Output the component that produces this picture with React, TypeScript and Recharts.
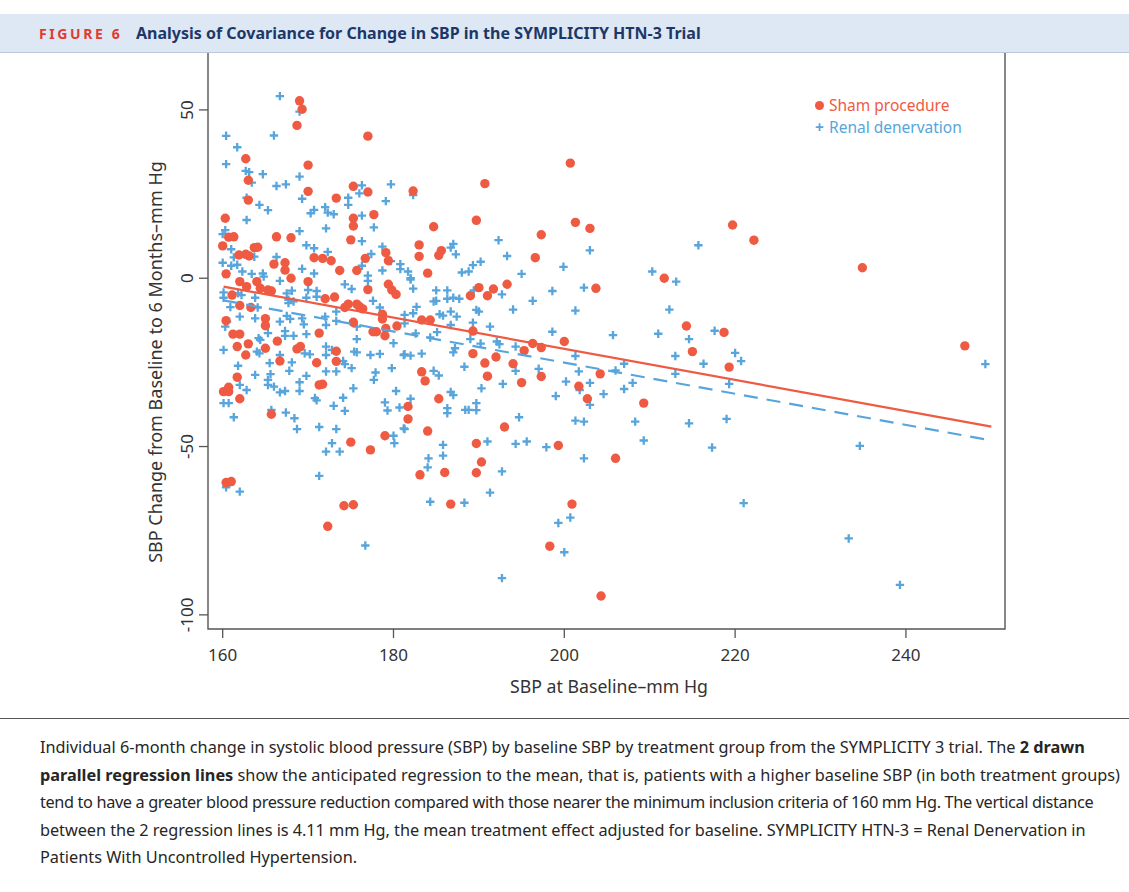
import { ScatterChart, Scatter, XAxis, YAxis, ReferenceArea } from "recharts";

const RED = "#ef5a42";
const BLUE = "#57a5dc";
const INK = "#333333";

const xTicks = [160, 180, 200, 220, 240];
const yTicks = [50, 0, -50, -100];
const xDomain: [number, number] = [158.28, 251.6];
const yDomain: [number, number] = [-104.2, 67.2];

// [baseline SBP, change at 6 months]
const shamPoints: [number, number][] = [
  [169.0, 52.7], [169.3, 50.2], [168.7, 45.4], [177.0, 42.2], [162.7, 35.5], [170.0, 33.6], [163.0, 29.1],
  [175.3, 27.3], [177.0, 25.6], [170.0, 25.8], [173.3, 23.8], [163.0, 23.2], [160.3, 17.8], [177.7, 18.9],
  [175.3, 17.8], [175.3, 15.5], [160.7, 12.2], [161.3, 12.3], [166.3, 12.3], [168.0, 12.0], [175.0, 11.4],
  [160.0, 9.6], [163.7, 9.1], [164.1, 9.2], [161.9, 6.9], [162.7, 7.1], [163.1, 6.6], [170.7, 6.1],
  [171.7, 5.9], [172.7, 5.2], [176.7, 5.9], [179.1, 7.6], [179.4, 5.2], [166.0, 4.2], [167.3, 4.6],
  [167.3, 2.4], [160.4, 1.3], [173.7, 2.3], [175.7, 2.3], [162.0, -1.0], [162.8, -2.5], [164.0, -1.0],
  [164.4, -3.0], [165.3, -3.5], [165.7, -3.8], [168.0, 0.0], [170.0, -1.0], [161.1, -5.0], [162.0, -8.1],
  [163.3, -8.7], [160.4, -12.6], [165.0, -12.0], [165.0, -14.1], [172.0, -6.1], [173.1, -5.6], [174.3, -8.7],
  [174.7, -7.7], [175.7, -7.7], [176.0, -8.4], [176.4, -9.1], [177.0, -3.4], [178.7, -10.7], [178.7, -12.1],
  [179.4, -1.8], [179.8, -3.5], [180.3, -4.8], [180.4, -14.2], [179.1, -14.9], [177.6, -15.9], [178.0, -15.9],
  [179.0, -17.1], [175.3, -13.1], [161.2, -16.6], [162.0, -16.6], [161.7, -20.3], [163.0, -19.5], [162.7, -22.8],
  [165.0, -20.8], [166.4, -18.7], [171.3, -16.3], [168.7, -21.0], [169.1, -20.3], [166.7, -24.6], [171.0, -25.1],
  [173.3, -21.7], [173.3, -24.7], [161.7, -29.4], [160.7, -32.4], [160.1, -33.7], [160.7, -33.7], [162.0, -35.8],
  [171.3, -31.7], [171.7, -31.5], [165.7, -40.4], [175.0, -48.7], [179.0, -46.8], [177.3, -51.0], [160.4, -60.7],
  [161.0, -60.4], [172.3, -73.7], [174.2, -67.6], [175.3, -67.3], [200.7, 34.2], [190.7, 28.1], [182.3, 25.9],
  [189.7, 17.2], [184.7, 15.3], [201.3, 16.6], [203.0, 14.8], [197.3, 12.9], [183.0, 9.9], [183.0, 6.5],
  [185.6, 8.2], [185.3, 6.8], [196.6, 6.1], [184.0, 1.5], [190.0, -2.8], [191.7, -3.2], [193.3, -1.8],
  [189.0, -5.2], [191.0, -5.2], [203.7, -3.0], [183.3, -12.4], [184.3, -12.4], [189.3, -15.7], [196.3, -19.4],
  [197.3, -20.6], [200.0, -18.8], [195.3, -21.5], [189.3, -22.4], [192.0, -23.4], [190.7, -25.2], [194.0, -25.4],
  [183.3, -27.8], [183.7, -30.5], [191.0, -29.1], [197.3, -29.2], [195.0, -31.0], [204.2, -28.4], [201.7, -32.1],
  [202.7, -35.8], [185.3, -35.8], [181.7, -38.1], [181.7, -41.8], [184.0, -45.4], [193.0, -44.2], [189.7, -49.1],
  [199.3, -49.7], [190.3, -54.6], [183.1, -58.4], [186.0, -57.7], [189.7, -57.8], [186.7, -67.1], [200.9, -67.1],
  [198.3, -79.6], [204.3, -94.4], [219.7, 15.8], [222.2, 11.3], [211.7, 0.0], [214.3, -14.2], [218.7, -16.1],
  [215.0, -21.8], [219.3, -26.4], [209.3, -37.1], [206.0, -53.5], [234.9, 3.1], [246.9, -20.1],
];

const renalPoints: [number, number][] = [
  [166.7, 54.1], [169.0, 49.5], [160.4, 42.3], [166.0, 42.4], [161.7, 38.9], [160.4, 33.9], [162.7, 31.9],
  [163.1, 31.5], [164.7, 30.9], [169.0, 30.2], [163.4, 28.4], [166.3, 27.4], [167.4, 27.9], [176.3, 27.6],
  [179.7, 27.9], [176.0, 25.2], [169.3, 23.6], [162.8, 23.9], [174.7, 23.9], [174.7, 21.8], [179.1, 22.9],
  [164.3, 21.8], [165.3, 20.2], [170.3, 19.3], [170.7, 20.3], [172.0, 21.1], [172.3, 19.5], [173.0, 19.0],
  [176.3, 18.6], [162.8, 17.3], [172.1, 14.8], [177.7, 15.1], [160.3, 14.3], [160.0, 13.1], [169.0, 14.0],
  [176.3, 11.0], [169.8, 9.8], [170.7, 8.9], [172.3, 7.8], [178.7, 9.4], [161.0, 8.6], [161.3, 6.2],
  [163.7, 6.4], [166.3, 6.3], [177.4, 7.2], [160.0, 4.6], [161.0, 3.7], [161.7, 4.0], [162.3, 2.0],
  [163.4, 1.3], [164.7, 1.4], [169.3, 2.8], [170.7, 1.4], [176.3, 3.7], [177.0, 0.8], [178.7, 2.3],
  [180.8, 4.2], [180.8, 2.7], [179.7, 5.1], [166.7, -0.8], [174.3, -1.8], [177.0, -0.8], [164.8, 0.5],
  [160.1, -4.2], [160.1, -5.8], [161.8, -4.5], [162.2, -5.0], [163.8, -5.8], [167.5, -4.5], [168.1, -3.7],
  [167.7, -6.4], [170.0, -3.5], [171.0, -3.8], [169.8, -5.8], [171.0, -5.5], [175.1, -3.2], [160.9, -8.6],
  [164.1, -8.7], [167.7, -7.4], [168.3, -6.9], [173.3, -9.9], [177.6, -6.7], [178.4, -8.7], [162.0, -11.4],
  [160.5, -12.9], [160.3, -14.4], [163.8, -11.9], [166.7, -12.9], [167.5, -11.2], [167.9, -12.1], [169.3, -11.9],
  [169.5, -13.7], [172.0, -11.4], [172.1, -13.9], [173.3, -12.7], [175.7, -14.4], [165.3, -16.3], [167.3, -15.7],
  [167.3, -17.1], [168.3, -17.1], [169.8, -16.6], [164.2, -17.8], [164.4, -18.3], [175.7, -18.1], [180.0, -19.3],
  [160.1, -21.3], [164.0, -21.8], [164.3, -22.3], [166.7, -22.8], [169.6, -22.3], [170.2, -22.6], [172.1, -20.3],
  [172.1, -22.8], [172.8, -21.3], [175.4, -21.8], [175.7, -22.0], [177.3, -22.8], [178.4, -22.5], [181.2, -22.8],
  [174.1, -24.6], [174.3, -25.5], [161.8, -26.0], [165.5, -25.2], [165.6, -28.5], [168.1, -25.0], [167.8, -27.5],
  [163.8, -28.7], [169.8, -29.0], [172.1, -27.7], [173.3, -27.7], [175.1, -26.7], [177.9, -28.0], [177.7, -30.2],
  [179.8, -26.7], [165.3, -30.2], [165.3, -31.7], [166.0, -32.2], [169.0, -30.9], [169.0, -33.5], [162.0, -31.7],
  [162.8, -33.2], [166.7, -33.9], [167.3, -33.5], [170.8, -35.6], [171.0, -36.3], [174.1, -35.5], [175.3, -32.7],
  [180.3, -33.5], [160.1, -37.1], [160.7, -37.1], [173.0, -37.9], [174.3, -39.4], [179.0, -36.9], [179.3, -39.3],
  [180.7, -38.4], [165.7, -39.1], [167.4, -39.9], [168.4, -41.6], [161.3, -41.3], [168.7, -44.8], [171.3, -44.2],
  [173.3, -44.8], [181.2, -44.6], [180.0, -46.8], [180.1, -49.0], [172.8, -49.0], [173.7, -51.5], [172.1, -51.5],
  [160.4, -62.1], [162.0, -63.4], [171.3, -58.7], [176.7, -79.4], [182.3, 24.7], [187.0, 10.2], [186.7, 9.1],
  [187.3, 7.1], [192.3, 11.3], [193.3, 6.6], [190.2, 4.9], [189.3, 3.9], [188.0, 1.7], [188.8, 2.0],
  [195.0, 1.3], [199.9, 3.4], [203.0, 8.3], [181.7, 2.0], [182.0, 0.0], [182.0, -0.4], [182.3, -3.1],
  [185.0, -3.6], [186.3, -3.6], [186.3, -6.1], [187.0, -5.8], [187.7, -6.1], [184.7, -6.9], [185.0, -6.7],
  [189.4, -3.6], [192.7, -4.8], [198.6, -3.8], [202.3, -2.8], [196.3, -6.7], [194.0, -9.3], [201.3, -9.6],
  [182.7, -8.5], [182.3, -10.4], [181.3, -10.9], [185.4, -10.7], [185.8, -11.1], [186.7, -9.9], [187.4, -11.4],
  [189.7, -9.4], [190.0, -9.9], [181.3, -13.4], [186.7, -13.9], [189.3, -13.2], [191.3, -14.4], [198.6, -15.9],
  [182.6, -16.4], [185.1, -16.0], [184.3, -17.6], [189.0, -18.1], [192.1, -18.8], [192.4, -19.6], [190.2, -19.4],
  [194.3, -20.3], [187.2, -20.8], [187.0, -22.0], [181.3, -22.6], [182.0, -23.0], [183.3, -22.4], [201.3, -23.1],
  [188.3, -26.3], [197.0, -26.9], [194.3, -27.5], [201.7, -27.7], [184.7, -27.5], [185.3, -28.9], [200.2, -30.7],
  [203.0, -31.1], [192.8, -31.4], [190.3, -32.7], [201.8, -33.2], [186.7, -33.8], [187.0, -34.7], [199.0, -35.0],
  [204.6, -34.4], [182.0, -35.8], [189.7, -37.1], [189.7, -39.2], [188.4, -39.1], [188.8, -39.1], [186.3, -38.6],
  [186.3, -40.1], [203.0, -37.6], [181.3, -44.8], [194.7, -41.3], [201.3, -42.3], [202.3, -42.6], [185.8, -49.5],
  [191.0, -48.5], [194.3, -49.2], [195.6, -48.5], [197.9, -50.2], [185.8, -52.7], [184.1, -53.5], [202.3, -53.5],
  [184.0, -56.2], [192.7, -57.4], [191.3, -63.7], [184.3, -66.4], [188.3, -66.7], [199.3, -72.7], [200.7, -71.1],
  [200.0, -81.4], [192.7, -89.1], [215.7, 9.8], [210.3, 2.0], [213.1, -1.0], [212.3, -9.3], [205.7, -16.9],
  [211.0, -16.5], [217.6, -15.6], [214.6, -18.1], [213.0, -23.1], [220.0, -22.2], [220.7, -24.6], [216.3, -25.4],
  [207.0, -25.4], [206.0, -27.4], [213.0, -28.4], [208.0, -31.1], [207.0, -32.9], [219.3, -31.4], [208.3, -42.6],
  [214.6, -43.1], [219.0, -41.8], [209.3, -48.2], [217.3, -50.3], [221.0, -66.8], [249.3, -25.5], [234.6, -49.8],
  [233.3, -77.3], [239.3, -91.1],
];

// parallel regression lines (endpoints)
const shamFit: [number, number][] = [[160.1, -2.5], [250.0, -44.1]];
const renalFit: [number, number][] = [[160.1, -6.6], [250.0, -48.2]];

const toRows = (pts: [number, number][]) => pts.map(([x, y]) => ({ x, y }));

const Dot = (props: any) => <circle cx={props.cx} cy={props.cy} r={4.7} fill={RED} />;
const Plus = (props: any) => {
  const { cx, cy } = props;
  return (
    <path
      d={`M${cx - 4.2},${cy}H${cx + 4.2}M${cx},${cy - 4.2}V${cy + 4.2}`}
      stroke={BLUE}
      strokeWidth={2.3}
    />
  );
};
const NoMark = () => <g />;

const YTick = ({ x, y, payload }: any) => (
  <text
    x={x - 4}
    y={y}
    transform={`rotate(-90 ${x - 4} ${y})`}
    textAnchor="middle"
    fontSize={17}
    fill={INK}
  >
    {payload.value}
  </text>
);

const font = "'Noto Sans', 'Open Sans', sans-serif";

export default function App() {
  return (
    <div
      style={{
        position: "absolute",
        left: 0,
        top: 0,
        width: 1129,
        height: 892,
        background: "#fff",
        fontFamily: font,
        overflow: "hidden",
      }}
    >
      <ScatterChart
        width={1129}
        height={892}
        margin={{ top: 52, right: 124, bottom: 223, left: 168 }}
        style={{ position: "absolute", left: 0, top: 0, fontFamily: font }}
      >
        <XAxis
          type="number"
          dataKey="x"
          domain={xDomain}
          ticks={xTicks}
          allowDataOverflow
          height={40}
          axisLine={false}
          tickSize={9}
          tickLine={{ stroke: "#555", strokeWidth: 1.3 }}
          tick={{ fontSize: 17, fill: INK }}
          tickMargin={11}
        />
        <YAxis
          type="number"
          dataKey="y"
          domain={yDomain}
          ticks={yTicks}
          allowDataOverflow
          width={40}
          axisLine={false}
          tickSize={9}
          tickLine={{ stroke: "#555", strokeWidth: 1.3 }}
          tick={<YTick />}
        />
        <ReferenceArea
          x1={xDomain[0]}
          x2={xDomain[1]}
          y1={yDomain[0]}
          y2={yDomain[1]}
          fill="none"
          stroke="#555"
          strokeWidth={1.4}
          ifOverflow="visible"
        />
        <Scatter data={toRows(renalPoints)} shape={<Plus />} isAnimationActive={false} />
        <Scatter data={toRows(shamPoints)} shape={<Dot />} isAnimationActive={false} />
        <Scatter
          data={toRows(shamFit)}
          line={{ stroke: RED, strokeWidth: 2.2 }}
          shape={<NoMark />}
          isAnimationActive={false}
        />
        <Scatter
          data={toRows(renalFit)}
          line={{ stroke: BLUE, strokeWidth: 2.2, strokeDasharray: "14 9" }}
          shape={<NoMark />}
          isAnimationActive={false}
        />
      </ScatterChart>

      {/* header band */}
      <div
        style={{
          position: "absolute",
          left: 0,
          top: 14,
          width: 1129,
          height: 38,
          background: "#dde8f4",
          borderBottom: "1px solid #b9c9db",
        }}
      >
        <span
          style={{
            position: "absolute",
            left: 39,
            top: 10,
            fontSize: 14,
            fontWeight: 700,
            color: "#e23a2e",
            letterSpacing: 2.6,
          }}
        >
          FIGURE 6
        </span>
        <span
          style={{
            position: "absolute",
            left: 136,
            top: 8,
            fontSize: 16,
            fontWeight: 700,
            color: "#1d3868",
          }}
        >
          Analysis of Covariance for Change in SBP in the SYMPLICITY HTN-3 Trial
        </span>
      </div>

      {/* legend */}
      <div style={{ position: "absolute", left: 815, top: 94, fontSize: 15.5, lineHeight: "22px" }}>
        <div style={{ color: RED }}>
          <span
            style={{
              display: "inline-block",
              width: 9,
              height: 9,
              borderRadius: "50%",
              background: RED,
              marginRight: 5,
              verticalAlign: 1,
            }}
          />
          Sham procedure
        </div>
        <div style={{ color: BLUE }}>
          <span style={{ display: "inline-block", width: 9, marginRight: 5, fontWeight: 700 }}>+</span>
          Renal denervation
        </div>
      </div>

      {/* axis titles */}
      <div
        style={{
          position: "absolute",
          left: 155,
          top: 362,
          transform: "translate(-50%, -50%) rotate(-90deg)",
          whiteSpace: "nowrap",
          fontSize: 18,
          color: INK,
        }}
      >
        SBP Change from Baseline to 6 Months–mm Hg
      </div>
      <div
        style={{
          position: "absolute",
          left: 609,
          top: 686,
          transform: "translate(-50%, -50%)",
          whiteSpace: "nowrap",
          fontSize: 17.7,
          color: INK,
        }}
      >
        SBP at Baseline–mm Hg
      </div>

      {/* caption */}
      <div style={{ position: "absolute", left: 0, top: 718, width: 1129, borderTop: "1px solid #555" }} />
      <div
        style={{
          position: "absolute",
          left: 40,
          top: 734,
          fontSize: 16.3,
          lineHeight: "27.5px",
          color: "#262626",
          whiteSpace: "nowrap",
        }}
      >
        <div>
          Individual 6-month change in systolic blood pressure (SBP) by baseline SBP by treatment group from the SYMPLICITY 3 trial. The <b>2 drawn</b>
        </div>
        <div>
          <b>parallel regression lines</b> show the anticipated regression to the mean, that is, patients with a higher baseline SBP (in both treatment groups)
        </div>
        <div style={{ letterSpacing: -0.36 }}>
          tend to have a greater blood pressure reduction compared with those nearer the minimum inclusion criteria of 160 mm Hg. The vertical distance
        </div>
        <div style={{ letterSpacing: -0.05 }}>
          between the 2 regression lines is 4.11 mm Hg, the mean treatment effect adjusted for baseline. SYMPLICITY HTN-3 = Renal Denervation in
        </div>
        <div>Patients With Uncontrolled Hypertension.</div>
      </div>
    </div>
  );
}
